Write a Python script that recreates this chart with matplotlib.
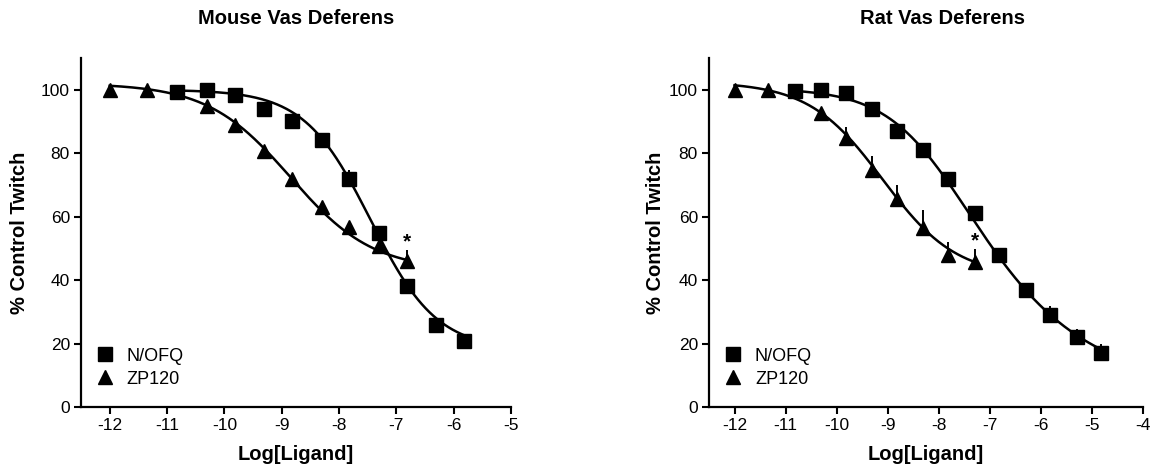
import numpy as np
import matplotlib
matplotlib.use("Agg")
import matplotlib.pyplot as plt
from matplotlib.lines import Line2D

plt.rcParams["font.family"] = ["Liberation Sans", "DejaVu Sans"]
plt.rcParams["axes.unicode_minus"] = False

# Mouse vas deferens
mouse_nofq_x = [-10.82, -10.30, -9.82, -9.30, -8.82, -8.30, -7.82, -7.30, -6.82, -6.30, -5.82]
mouse_nofq_y = [99.4, 100, 98.2, 93.9, 90.1, 84.2, 72, 55, 38, 26, 20.9]
mouse_nofq_err = [0, 0, 0.5, 1, 1, 1, 2.7, 1.5, 1.5, 1, 1]
mouse_zp_x = [-12.0, -11.35, -10.30, -9.82, -9.30, -8.82, -8.30, -7.82, -7.30, -6.82]
mouse_zp_y = [100, 100, 94.8, 88.9, 80.8, 71.9, 63, 56.7, 50.7, 45.9]
mouse_zp_err = [0, 0, 0.5, 0.5, 1, 1, 1, 1, 1, 3.5]

# Rat vas deferens
rat_nofq_x = [-10.82, -10.30, -9.82, -9.30, -8.82, -8.30, -7.82, -7.30, -6.82, -6.30, -5.82, -5.30, -4.82]
rat_nofq_y = [99.7, 100, 99, 94, 87, 81, 72, 61, 48, 37, 29, 22, 17]
rat_nofq_err = [0, 0, 0.5, 1, 1, 1, 1.5, 1.5, 2, 2, 2.7, 2.5, 2.7]
rat_zp_x = [-12.0, -11.35, -10.30, -9.82, -9.30, -8.82, -8.30, -7.82, -7.30]
rat_zp_y = [100, 100, 92.8, 84.8, 74.6, 65.6, 56.5, 47.8, 45.7]
rat_zp_err = [0, 0, 1, 3.4, 4.6, 4.5, 5.5, 4.2, 4.2]

# sigmoid fits: top, bottom, logEC50, hill slope, asymmetry
mouse_nofq_fit = [100, 18, -7.45, 0.75, 1.0]
mouse_zp_fit = [102, 43, -8.85, 0.6, 1.0]
rat_nofq_fit = [100.5, 5, -8.0, 0.6, 0.45]
rat_zp_fit = [102.5, 41, -9.1, 0.6, 1.0]


def sigmoid(x, top, bottom, logec50, hill, asym):
    return bottom + (top - bottom) / (1 + 10 ** ((x - logec50) * hill)) ** asym


def draw_series(ax, x, y, err, fit, marker, ms):
    xs = np.linspace(min(x), max(x), 300)
    ax.plot(xs, sigmoid(xs, *fit), color="black", lw=1.8, zorder=2)
    ax.errorbar(x, y, yerr=[np.zeros(len(err)), err], fmt="none", ecolor="black",
                elinewidth=1.4, capsize=0, zorder=3)
    ax.plot(x, y, linestyle="none", marker=marker, ms=ms, color="black",
            clip_on=False, zorder=4)


def style_axes(ax, xmax, ylabel_x):
    ax.set_xlim(-12.5, xmax)
    ax.set_ylim(0, 110)
    ax.set_xticks(range(-12, xmax + 1))
    ax.set_yticks([0, 20, 40, 60, 80, 100])
    for side in ["top", "right"]:
        ax.spines[side].set_visible(False)
    for side in ["left", "bottom"]:
        ax.spines[side].set_linewidth(1.6)
    ax.tick_params(width=1.5, length=5, labelsize=12.5, pad=3)
    ax.set_xlabel("Log[Ligand]", fontsize=14.5, fontweight="bold", va="center")
    ax.set_ylabel("% Control Twitch", fontsize=14.5, fontweight="bold", va="center")
    ax.xaxis.set_label_coords(0.5, -0.1375)
    ax.yaxis.set_label_coords(ylabel_x, 0.5)
    handles = [Line2D([], [], ls="none", marker="s", ms=9.5, color="black"),
               Line2D([], [], ls="none", marker="^", ms=10, color="black")]
    ax.legend(handles, ["N/OFQ", "ZP120"], loc="center left",
              bbox_to_anchor=(0.035, 0.113), frameon=False, fontsize=13,
              handlelength=1.0, handletextpad=0.7, labelspacing=0.33,
              borderpad=0, borderaxespad=0)


fig = plt.figure(figsize=(11.65, 4.67), dpi=100)
ax1 = fig.add_axes([81 / 1165, 60 / 467, 430 / 1165, 349 / 467])
ax2 = fig.add_axes([709 / 1165, 60 / 467, 434 / 1165, 349 / 467])

draw_series(ax1, mouse_nofq_x, mouse_nofq_y, mouse_nofq_err, mouse_nofq_fit, "s", 9.5)
draw_series(ax1, mouse_zp_x, mouse_zp_y, mouse_zp_err, mouse_zp_fit, "^", 10)
style_axes(ax1, -5, -0.142)
ax1.text(mouse_zp_x[-1], 52, "*", ha="center", va="center", fontsize=15, fontweight="bold")

draw_series(ax2, rat_nofq_x, rat_nofq_y, rat_nofq_err, rat_nofq_fit, "s", 9.5)
draw_series(ax2, rat_zp_x, rat_zp_y, rat_zp_err, rat_zp_fit, "^", 10)
style_axes(ax2, -4, -0.124)
ax2.text(rat_zp_x[-1], 52.5, "*", ha="center", va="center", fontsize=15, fontweight="bold")

fig.text(296 / 1165, 1 - 19 / 467, "Mouse Vas Deferens", ha="center", va="center",
         fontsize=14.5, fontweight="bold")
fig.text(942 / 1165, 1 - 19 / 467, "Rat Vas Deferens", ha="center", va="center",
         fontsize=14.5, fontweight="bold")

fig.savefig("out.png", dpi=100)
plt.close(fig)
